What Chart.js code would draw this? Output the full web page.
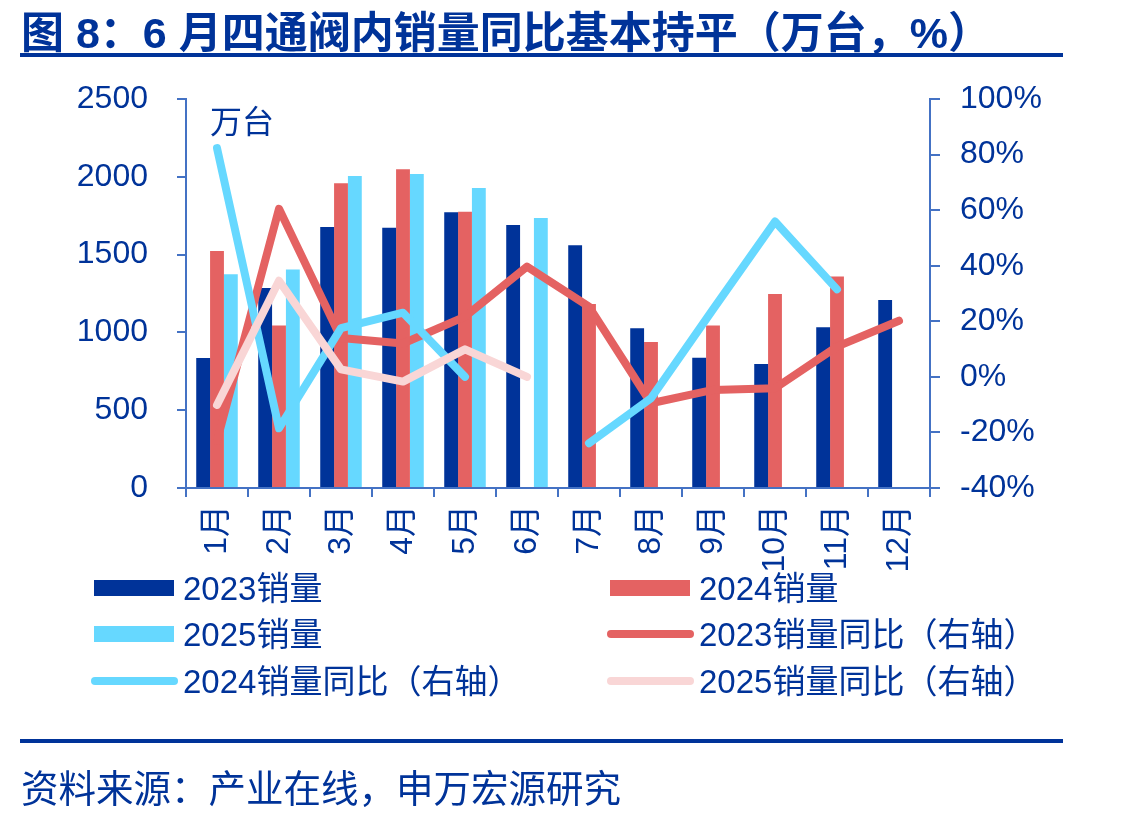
<!DOCTYPE html>
<html>
<head>
<meta charset="utf-8">
<script src="https://cdn.jsdelivr.net/npm/chart.js@4/dist/chart.umd.min.js"></script>
<style>
  body { margin: 0; background: #fff; }
  #wrap { position: relative; width: 1124px; height: 817px; overflow: hidden;
          font-family: "Liberation Sans", "Noto Sans CJK SC", sans-serif; color: #003399; }
  #c { position: absolute; left: 0; top: 0; }
  .title { position: absolute; left: 21px; top: -2px; font-size: 43px; font-weight: bold; white-space: nowrap; }
  .rule { position: absolute; left: 20px; width: 1043px; height: 4px; background: #003399; }
  .unit { position: absolute; left: 210px; top: 96px; font-size: 32px; }
  .source { position: absolute; left: 21px; top: 758px; font-size: 37.5px; white-space: nowrap; }
  .lg { position: absolute; font-size: 33px; white-space: nowrap; line-height: 1; }
  .lg .sym { position: absolute; }
</style>
</head>
<body>
<div id="wrap">
  <canvas id="c" width="1124" height="817"></canvas>
  <div class="title">图 8：6 月四通阀内销量同比基本持平（万台，%）</div>
  <div class="rule" style="top:53px"></div>
  <div class="unit">万台</div>
  <div id="legend"></div>
  <div class="rule" style="top:739px"></div>
  <div class="source">资料来源：产业在线，申万宏源研究</div>
</div>
<script>
"use strict";

// 月份と各系列のデータ
const months = ["1月", "2月", "3月", "4月", "5月", "6月", "7月", "8月", "9月", "10月", "11月", "12月"];
const sales2023 = [835, 1285, 1677, 1673, 1772, 1690, 1560, 1026, 837, 797, 1033, 1208];
const sales2024 = [1523, 1045, 1958, 2048, 1775, null, 1183, 938, 1045, 1247, 1360, null];
const sales2025 = [1373, 1405, 2005, 2018, 1928, 1735, null, null, null, null, null, null];
const yoy2023 = [-23, 60.5, 14, 12, 21.7, 39.7, 25.3, -9.5, -4.7, -4.1, 10.9, 20.2];
const yoy2024 = [82.3, -18.5, 17.5, 23.1, 0, null, -23.9, -7.7, 24.3, 55.9, 31.5, null];
const yoy2025 = [-10.1, 34.6, 2.7, -1.7, 9.9, 0, null, null, null, null, null, null];

const leftTicks = [0, 500, 1000, 1500, 2000, 2500];
const rightTicks = [-40, -20, 0, 20, 40, 60, 80, 100];

const NAVY = "#003399";
const RED = "#E46262";
const CYAN = "#66D8FF";
const PINK = "#F9D6D6";
const AXIS = "#4472C4";
const FONT = "'Liberation Sans', 'Noto Sans CJK SC', sans-serif";

const datasets = [
  { type: "bar", label: "2023销量", data: sales2023, backgroundColor: NAVY, yAxisID: "y", order: 3 },
  { type: "bar", label: "2024销量", data: sales2024, backgroundColor: RED, yAxisID: "y", order: 3 },
  { type: "bar", label: "2025销量", data: sales2025, backgroundColor: CYAN, yAxisID: "y", order: 3 },
  { type: "line", label: "2023销量同比（右轴）", data: yoy2023, borderColor: RED, yAxisID: "y2", order: 2 },
  { type: "line", label: "2024销量同比（右轴）", data: yoy2024, borderColor: CYAN, yAxisID: "y2", order: 1 },
  { type: "line", label: "2025销量同比（右轴）", data: yoy2025, borderColor: PINK, yAxisID: "y2", order: 0 }
];

datasets.forEach(d => {
  if (d.type === "bar") {
    d.categoryPercentage = 0.67;
    d.barPercentage = 1.0;
  } else {
    d.borderWidth = 8;
    d.pointRadius = 0;
    d.tension = 0;
    d.spanGaps = false;
    d.borderCapStyle = "round";
    d.borderJoinStyle = "round";
    d.fill = false;
  }
});

new Chart(document.getElementById("c"), {
  data: { labels: months, datasets: datasets },
  options: {
    responsive: false,
    animation: false,
    devicePixelRatio: 1,
    layout: { padding: { left: 0, right: 0, top: 99, bottom: 239 } },
    plugins: { legend: { display: false }, tooltip: { enabled: false } },
    scales: {
      x: {
        grid: { offset: true, drawOnChartArea: false, drawTicks: true, tickLength: 9, color: AXIS, lineWidth: 2 },
        border: { display: true, color: AXIS, width: 2 },
        ticks: { color: NAVY, font: { size: 32, family: FONT }, minRotation: 90, maxRotation: 90, padding: 8, autoSkip: false },
        afterFit: s => { s.height = 90; }
      },
      y: {
        position: "left",
        min: 0, max: 2500,
        afterBuildTicks: s => { s.ticks = leftTicks.map(v => ({ value: v })); },
        grid: { drawOnChartArea: false, drawTicks: true, tickLength: 9, color: AXIS, lineWidth: 2 },
        border: { display: true, color: AXIS, width: 2 },
        ticks: { color: NAVY, font: { size: 32, family: FONT }, padding: 29, callback: v => String(v) },
        afterFit: s => { s.width = 186; }
      },
      y2: {
        position: "right",
        min: -40, max: 100,
        afterBuildTicks: s => { s.ticks = rightTicks.map(v => ({ value: v })); },
        grid: { drawOnChartArea: false, drawTicks: true, tickLength: 10, color: AXIS, lineWidth: 2 },
        border: { display: true, color: AXIS, width: 2 },
        ticks: { color: NAVY, font: { size: 32, family: FONT }, padding: 20, callback: v => v + "%" },
        afterFit: s => { s.width = 194; }
      }
    }
  }
});

// 凡例（2列×3行）
const legendPos = [
  { x: 91, y: 588 }, { x: 607, y: 588 },
  { x: 91, y: 634 }, { x: 607, y: 634 },
  { x: 91, y: 681 }, { x: 607, y: 681 }
];
const legendRoot = document.getElementById("legend");
datasets.forEach((d, i) => {
  const p = legendPos[i];
  const item = document.createElement("div");
  item.className = "lg";
  item.style.left = (p.x + 92) + "px";
  item.style.top = (p.y - 16) + "px";
  item.textContent = d.label;
  const sym = document.createElement("div");
  sym.className = "sym";
  if (d.type === "bar") {
    sym.style.left = "-89px";
    sym.style.top = "8px";
    sym.style.width = "80px";
    sym.style.height = "16px";
    sym.style.background = d.backgroundColor;
  } else {
    sym.style.left = "-92px";
    sym.style.top = "12px";
    sym.style.width = "87px";
    sym.style.height = "8px";
    sym.style.borderRadius = "4px";
    sym.style.background = d.borderColor;
  }
  item.appendChild(sym);
  legendRoot.appendChild(item);
});
</script>
</body>
</html>
